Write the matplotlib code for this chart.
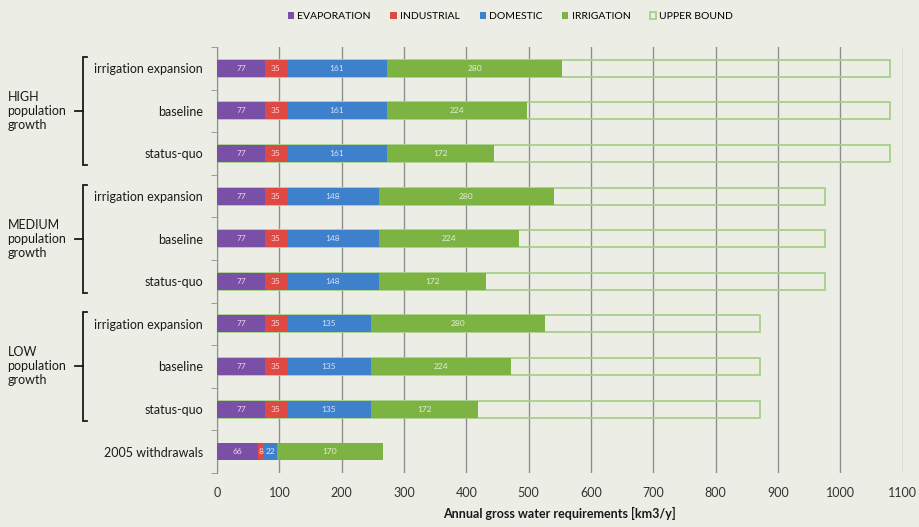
import numpy as np
import matplotlib.pyplot as plt

plt.rcParams['font.family'] = ['Lato', 'DejaVu Sans']

# rows from top to bottom
scenarios = ['irrigation expansion', 'baseline', 'status-quo',
             'irrigation expansion', 'baseline', 'status-quo',
             'irrigation expansion', 'baseline', 'status-quo',
             '2005 withdrawals']
evaporation = [77, 77, 77, 77, 77, 77, 77, 77, 77, 66]
industrial = [35, 35, 35, 35, 35, 35, 35, 35, 35, 8]
domestic = [161, 161, 161, 148, 148, 148, 135, 135, 135, 22]
irrigation = [280, 224, 172, 280, 224, 172, 280, 224, 172, 170]
upper_bound = [1080, 1080, 1080, 975, 975, 975, 872, 872, 872, 0]

groups = ['HIGH\npopulation\ngrowth', 'MEDIUM\npopulation\ngrowth', 'LOW\npopulation\ngrowth']
group_rows = [(0, 2), (3, 5), (6, 8)]

series = [('EVAPORATION', evaporation, '#7a4fa6'),
          ('INDUSTRIAL', industrial, '#de4a43'),
          ('DOMESTIC', domestic, '#3f80cc'),
          ('IRRIGATION', irrigation, '#7cb342')]

bg = '#eceee5'
fig = plt.figure(figsize=(9.2, 5.27), dpi=100, facecolor=bg)
ax = fig.add_axes([0.236, 0.1025, 0.745, 0.8085], facecolor=bg)

y = np.arange(len(scenarios))
h = 0.4

# upper bound outline bars behind
ub = np.array(upper_bound)
mask = ub > 0
ax.barh(y[mask], ub[mask], height=h, fill=False, edgecolor='#a8d08a',
        linewidth=1.3, zorder=2, label='UPPER BOUND')

left = np.zeros(len(scenarios))
for name, vals, col in series:
    vals = np.array(vals, dtype=float)
    ax.barh(y, vals, left=left, height=h, color=col, edgecolor='none',
            zorder=3, label=name)
    for yi, l, v in zip(y, left, vals):
        ax.text(l + v / 2, yi, str(int(v)), ha='center', va='center',
                fontsize=6, color='white', alpha=0.8, zorder=4)
    left += vals

ax.set_xlim(0, 1100)
ax.set_ylim(len(scenarios) - 0.5, -0.5)
ax.set_xticks(np.arange(0, 1101, 100))
ax.tick_params(axis='x', length=0, labelsize=9, colors='#333333', pad=10)
ax.xaxis.grid(True, color='#8f8f8f', linewidth=1)
ax.set_axisbelow(True)

ax.set_yticks(y)
ax.set_yticklabels(scenarios, fontsize=9, color='#1a1a1a')
ax.set_yticks(np.arange(-0.5, len(scenarios)), minor=True)
ax.tick_params(axis='y', which='major', length=0, pad=10)
ax.tick_params(axis='y', which='minor', length=4, color='#8f8f8f')

for s in ['top', 'right', 'bottom']:
    ax.spines[s].set_visible(False)
ax.spines['left'].set_color('#8f8f8f')

ax.set_xlabel('Annual gross water requirements [km3/y]', fontsize=9,
              fontweight='bold', color='#1a1a1a', labelpad=2)
ax.xaxis.set_label_coords(0.329, -0.08, transform=ax.transAxes)
ax.xaxis.label.set_ha('left')

# group brackets
trans = ax.get_yaxis_transform()
for label, (r0, r1) in zip(groups, group_rows):
    xb = -0.196
    top, bot = r0 - 0.27, r1 + 0.27
    mid = (r0 + r1) / 2
    ax.plot([xb + 0.006, xb, xb, xb + 0.006], [top, top, bot, bot],
            transform=trans, color='#1a1a1a', lw=1.3, clip_on=False,
            solid_joinstyle='miter')
    ax.plot([xb - 0.011, xb], [mid, mid], transform=trans, color='#1a1a1a',
            lw=1.3, clip_on=False)
    ax.text(-0.306, mid, label, transform=trans, ha='left', va='center',
            fontsize=9, color='#1a1a1a', linespacing=1.2)

handles, labels = ax.get_legend_handles_labels()
order = [1, 2, 3, 4, 0]
fig.legend([handles[i] for i in order], [labels[i] for i in order],
           loc='center', bbox_to_anchor=(0.555, 0.968), ncol=5, frameon=False,
           fontsize=7.5, handlelength=0.6, handleheight=0.6, handletextpad=0.3,
           columnspacing=1.9)

fig.savefig('out.png', dpi=100, facecolor=bg)
